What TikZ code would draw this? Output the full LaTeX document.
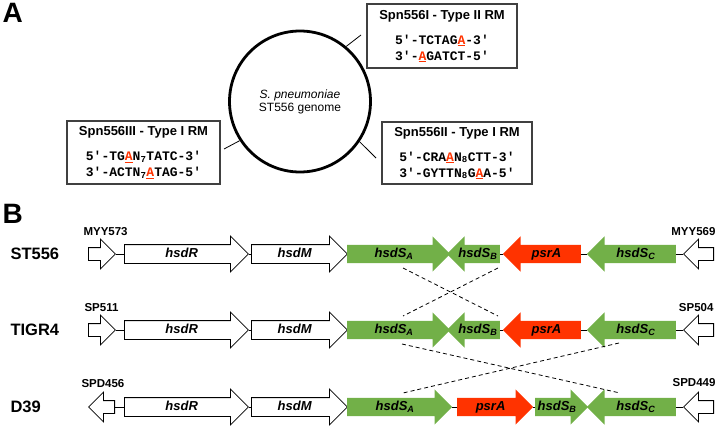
\documentclass[tikz,border=0pt]{standalone}
\usepackage{fontspec}
\setmainfont{Liberation Sans}
\setmonofont{Liberation Mono}
\definecolor{gn}{HTML}{72B048}
\definecolor{rd}{HTML}{FF3300}
\definecolor{bx}{HTML}{404040}
\usetikzlibrary{shapes.arrows}
\newcommand{\genefont}{\fontsize{13}{14}\selectfont\bfseries\itshape}
\newcommand{\tagfont}{\fontsize{11.5}{13}\selectfont\bfseries}
\newcommand{\strainfont}{\fontsize{16.5}{18}\selectfont\bfseries}
\newcommand{\panelfont}{\fontsize{28}{30}\selectfont\bfseries}
\newcommand{\circfont}{\fontsize{12}{13}\selectfont}
\newcommand{\rmtitle}{\fontsize{13}{16}\selectfont\rmfamily\bfseries}
\newcommand{\seqfont}{\fontsize{13}{16}\selectfont\ttfamily\bfseries}
\newcommand{\methA}[1]{\textcolor{rd}{\underline{#1}}}
\tikzset{gene/.style={single arrow, single arrow head extend=8.5pt, minimum width=35pt, inner xsep=0pt, inner ysep=2pt, text height=10pt, text depth=4pt, anchor=tail, font=\genefont}}
\tikzset{plain gene/.style={gene, draw=black, fill=white, line width=.8pt}}
\tikzset{green gene/.style={gene, fill=gn}}
\tikzset{red gene/.style={gene, fill=rd}}
\tikzset{flank/.style={gene, draw=black, fill=white, line width=.8pt, minimum width=29pt, inner ysep=0pt, text height=8pt, text depth=4pt}}
\tikzset{back/.style={shape border rotate=180}}
\tikzset{link/.style={line width=.8pt, black}}
\tikzset{crossing/.style={line width=.8pt, black, dash pattern=on 4pt off 3pt}}
\tikzset{rmbox/.style={draw=bx, line width=1.3pt, fill=white, align=center, inner sep=0pt, font=\seqfont}}

\begin{document}
\begin{tikzpicture}[x=1pt, y=-1pt]
	\useasboundingbox (0,0) rectangle (721,426);

	% Panel A
	\node[anchor=base west, font=\panelfont] (pA) at (-1,22.5) {A};
	\node[circle, draw, line width=2.8pt, minimum size=141pt, align=center, font=\circfont] (genome) at (300,101.5) {\textit{S. pneumoniae}\\ST556 genome};

	% RM systems
	\node[rmbox, minimum width=150, minimum height=64] (spnI) at (442,36) {{\rmtitle Spn556I - Type II RM}\\[9pt]5′-TCTAG\methA{A}-3′\\3′-\methA{A}GATCT-5′};
	\node[rmbox, minimum width=150, minimum height=62] (spnII) at (457,153) {{\rmtitle Spn556II - Type I RM}\\[9pt]5′-CRA\methA{A}N\textsubscript{8}CTT-3′\\3′-GYTTN\textsubscript{8}G\methA{A}A-5′};
	\node[rmbox, minimum width=153, minimum height=63] (spnIII) at (143.5,152.5) {{\rmtitle Spn556III - Type I RM}\\[9pt]5′-TG\methA{A}N\textsubscript{7}TATC-3′\\3′-ACTN\textsubscript{7}\methA{A}TAG-5′};

	% Ticks
	\coordinate (tI) at (361,35);
	\coordinate (tII) at (376,158);
	\coordinate (tIII) at (224,149);
	\draw[link] (genome.50) -- (tI);
	\draw[link] (genome.-34) -- (tII);
	\draw[link] (genome.213) -- (tIII);

	% Panel B
	\node[anchor=base west, font=\panelfont] (pB) at (-1,223) {B};
	\node[anchor=west, font=\strainfont] (st556) at (7,254) {ST556};
	\node[anchor=west, font=\strainfont] (tigr4) at (7,330) {TIGR4};
	\node[anchor=west, font=\strainfont] (d39) at (7,407) {D39};

	% ST556
	\node[anchor=west, font=\tagfont] (myy573-t) at (80,232) {MYY573};
	\node[anchor=east, font=\tagfont] (myy569-t) at (719,232) {MYY569};
	\node[flank, minimum height=27] (myy573) at (88,254) {};
	\node[plain gene, minimum height=124] (st-R) at (124,254) {hsdR};
	\node[plain gene, minimum height=96] (st-M) at (251,254) {hsdM};
	\node[green gene, minimum height=103] (st-SA) at (347,254) {hsdS\textsubscript{A}};
	\node[green gene, back, minimum height=53] (st-SB) at (500,254) {hsdS\textsubscript{B}};
	\node[red gene, back, minimum height=78] (st-psrA) at (581,254) {psrA};
	\node[green gene, back, minimum height=89] (st-SC) at (676,254) {hsdS\textsubscript{C}};
	\node[flank, back, minimum height=30] (myy569) at (714,254) {};
	\draw[link] (myy573.tip) -- (st-R.tail);
	\draw[link] (st-R.tip) -- (st-M.tail);
	\draw[link] (st-SB.tail) -- (st-psrA.tip);
	\draw[link] (st-psrA.tail) -- (st-SC.tip);
	\draw[link] (st-SC.tail) -- (myy569.tip);

	% TIGR4
	\node[anchor=west, font=\tagfont] (sp511-t) at (81,308) {SP511};
	\node[anchor=east, font=\tagfont] (sp504-t) at (717,308) {SP504};
	\node[flank, minimum height=27] (sp511) at (88,330) {};
	\node[plain gene, minimum height=124] (tg-R) at (124,330) {hsdR};
	\node[plain gene, minimum height=96] (tg-M) at (251,330) {hsdM};
	\node[green gene, minimum height=103] (tg-SA) at (347,330) {hsdS\textsubscript{A}};
	\node[green gene, back, minimum height=53] (tg-SB) at (500,330) {hsdS\textsubscript{B}};
	\node[red gene, back, minimum height=78] (tg-psrA) at (581,330) {psrA};
	\node[green gene, back, minimum height=89] (tg-SC) at (676,330) {hsdS\textsubscript{C}};
	\node[flank, back, minimum height=30] (sp504) at (714,330) {};
	\draw[link] (sp511.tip) -- (tg-R.tail);
	\draw[link] (tg-R.tip) -- (tg-M.tail);
	\draw[link] (tg-SB.tail) -- (tg-psrA.tip);
	\draw[link] (tg-psrA.tail) -- (tg-SC.tip);
	\draw[link] (tg-SC.tail) -- (sp504.tip);

	% D39
	\node[anchor=west, font=\tagfont] (spd456-t) at (78,384) {SPD456};
	\node[anchor=east, font=\tagfont] (spd449-t) at (719,383) {SPD449};
	\node[flank, back, minimum height=26] (spd456) at (115,407) {};
	\node[plain gene, minimum height=124] (d-R) at (124,407) {hsdR};
	\node[plain gene, minimum height=96] (d-M) at (251,407) {hsdM};
	\node[green gene, minimum height=105] (d-SA) at (347,407) {hsdS\textsubscript{A}};
	\node[red gene, minimum height=76] (d-psrA) at (457,407) {psrA};
	\node[green gene, minimum height=53] (d-SB) at (535,407) {hsdS\textsubscript{B}};
	\node[green gene, back, minimum height=89] (d-SC) at (676,407) {hsdS\textsubscript{C}};
	\node[flank, back, minimum height=30] (spd449) at (714,407) {};
	\draw[link] (spd456.tail) -- (d-R.tail);
	\draw[link] (d-R.tip) -- (d-M.tail);
	\draw[link] (d-SA.tip) -- (d-psrA.tail);
	\draw[link] (d-psrA.tip) -- (d-SB.tail);
	\draw[link] (d-SC.tail) -- (spd449.tip);

	% Rearrangements
	\coordinate (stA) at (403,268);
	\coordinate (stB) at (498,268);
	\coordinate (tgA) at (403,316);
	\coordinate (tgB) at (498,316);
	\coordinate (tgA') at (402,344);
	\coordinate (tgC) at (619,343);
	\coordinate (dA) at (403,393);
	\coordinate (dC) at (620,393);
	\draw[crossing] (stA) -- (tgB);
	\draw[crossing] (stB) -- (tgA);
	\draw[crossing] (tgA') -- (dC);
	\draw[crossing] (tgC) -- (dA);
\end{tikzpicture}
\end{document}
